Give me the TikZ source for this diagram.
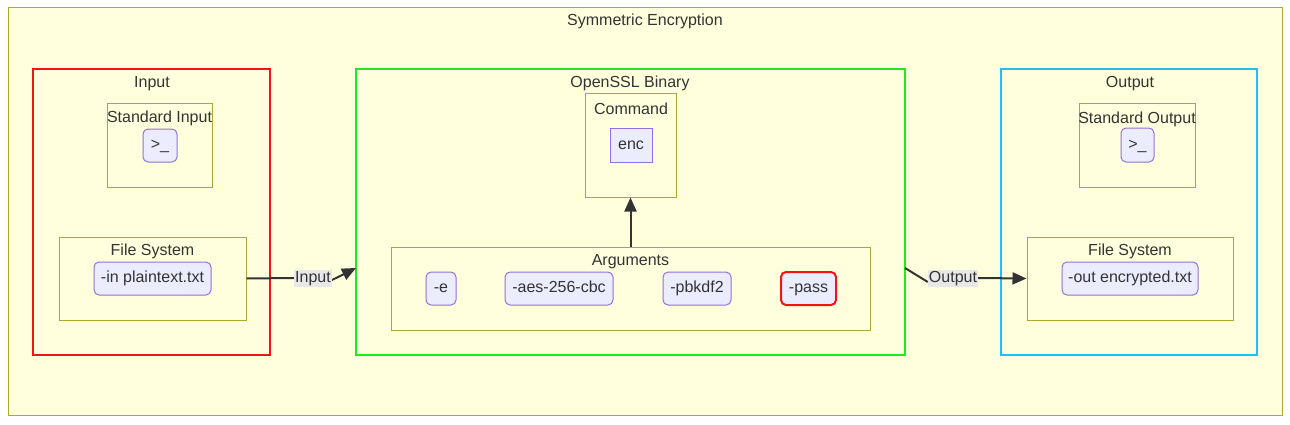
\documentclass[tikz,border=0pt]{standalone}
\usepackage{fontspec}
\setmainfont{Liberation Sans}
\usetikzlibrary{arrows.meta}
\definecolor{clfill}{HTML}{FFFFDE}
\definecolor{clstroke}{HTML}{AAAA33}
\definecolor{ndfill}{HTML}{ECECFF}
\definecolor{ndstroke}{HTML}{9370DB}
\definecolor{txt}{HTML}{333333}
\definecolor{lblbg}{HTML}{E8E8E8}
\definecolor{redc}{HTML}{F21414}
\definecolor{greenc}{HTML}{22E822}
\definecolor{bluec}{HTML}{1EC0F0}
\begin{document}
\begin{tikzpicture}[x=1pt,y=-1pt,
  every node/.style={font=\fontsize{16}{19}\selectfont, text=txt},
  cluster/.style={draw=clstroke, fill=clfill, line width=1pt, inner sep=0pt, rectangle},
  bigred/.style={cluster, draw=redc, line width=2pt},
  biggreen/.style={cluster, draw=greenc, line width=2pt},
  bigblue/.style={cluster, draw=bluec, line width=2pt},
  ttl/.style={inner sep=0pt, anchor=center, yshift=-1.5pt},
  nd/.style={draw=ndstroke, fill=ndfill, line width=1pt, rounded corners=5pt, inner sep=0pt, minimum height=33pt, text height=11.5pt, text depth=3.5pt},
  sqnd/.style={nd, rounded corners=0pt},
  passnd/.style={nd, draw=redc, line width=2pt},
  elabel/.style={fill=lblbg, inner sep=1pt, text height=11.5pt, text depth=3.5pt},
  edge/.style={draw=txt, line width=2pt},
  arr/.style={edge, -{Triangle[length=14pt,width=12pt]}}
]
\useasboundingbox (0,0) rectangle (1290,424);
% outer
\node[cluster, minimum width=1274pt, minimum height=408pt] (outer) at (645,211) {};
\node[ttl] (touter) at (645,20) {Symmetric Encryption};
% input
\node[bigred, minimum width=237pt, minimum height=286pt] (input) at (151.5,212) {};
\node[ttl] (tinput) at (152,82) {Input};
\node[cluster, minimum width=105pt, minimum height=84pt] (stdin) at (159.5,145) {};
\node[ttl] (tstdin) at (159.5,117) {Standard Input};
\node[nd, minimum width=34pt] (pin) at (160,145.5) {>\_};
\node[cluster, minimum width=187pt, minimum height=83pt] (fsin) at (152.5,278.5) {};
\node[ttl] (tfsin) at (152.5,250) {File System};
\node[nd, minimum width=117pt] (infile) at (152.5,278.5) {-in plaintext.txt};
% openssl
\node[biggreen, minimum width=549pt, minimum height=286pt] (ossl) at (630.5,212) {};
\node[ttl] (tossl) at (630,82) {OpenSSL Binary};
\node[cluster, minimum width=91pt, minimum height=104pt] (cmd) at (631,145) {};
\node[ttl] (tcmd) at (631,107) {Command};
\node[sqnd, minimum width=42pt, minimum height=34pt] (enc) at (631,145) {enc};
\node[cluster, minimum width=479pt, minimum height=83pt] (args) at (630.5,288.5) {};
\node[ttl] (targs) at (630.5,260) {Arguments};
\node[nd, minimum width=30pt] (ae) at (441,288.5) {-e};
\node[nd, minimum width=108pt] (aaes) at (559,288.5) {-aes-256-cbc};
\node[nd, minimum width=68pt] (apb) at (697,288.5) {-pbkdf2};
\node[passnd, minimum width=55pt] (apass) at (808.5,288.5) {-pass};
% output
\node[bigblue, minimum width=256pt, minimum height=286pt] (output) at (1129,212) {};
\node[ttl] (toutput) at (1130,82) {Output};
\node[cluster, minimum width=116pt, minimum height=84pt] (stdout) at (1137,145) {};
\node[ttl] (tstdout) at (1137,117.5) {Standard Output};
\node[nd, minimum width=33pt, minimum height=34pt] (pout) at (1137.5,145) {>\_};
\node[cluster, minimum width=206pt, minimum height=83pt] (fsout) at (1130,278.5) {};
\node[ttl] (tfsout) at (1130,250) {File System};
\node[nd, minimum width=136pt] (outfile) at (1130,278.5) {-out encrypted.txt};
% edges
\draw[arr] (args.north) -- (args.north |- cmd.south);
\coordinate (gin) at (356,268);
\coordinate (gout) at (905,268);
\node[elabel] (lin) at (313,278) {Input};
\node[elabel] (lout) at (953,278) {Output};
\draw[edge] (fsin.east) -- (lin.west);
\draw[arr] ([yshift=-2pt]lin.east) -- (gin);
\draw[edge] (gout) -- ([yshift=-4pt]lout.west);
\draw[arr] (lout.east) -- (fsout.west);
\node[elabel] at (lin) {Input};
\node[elabel] at (lout) {Output};
\end{tikzpicture}
\end{document}
